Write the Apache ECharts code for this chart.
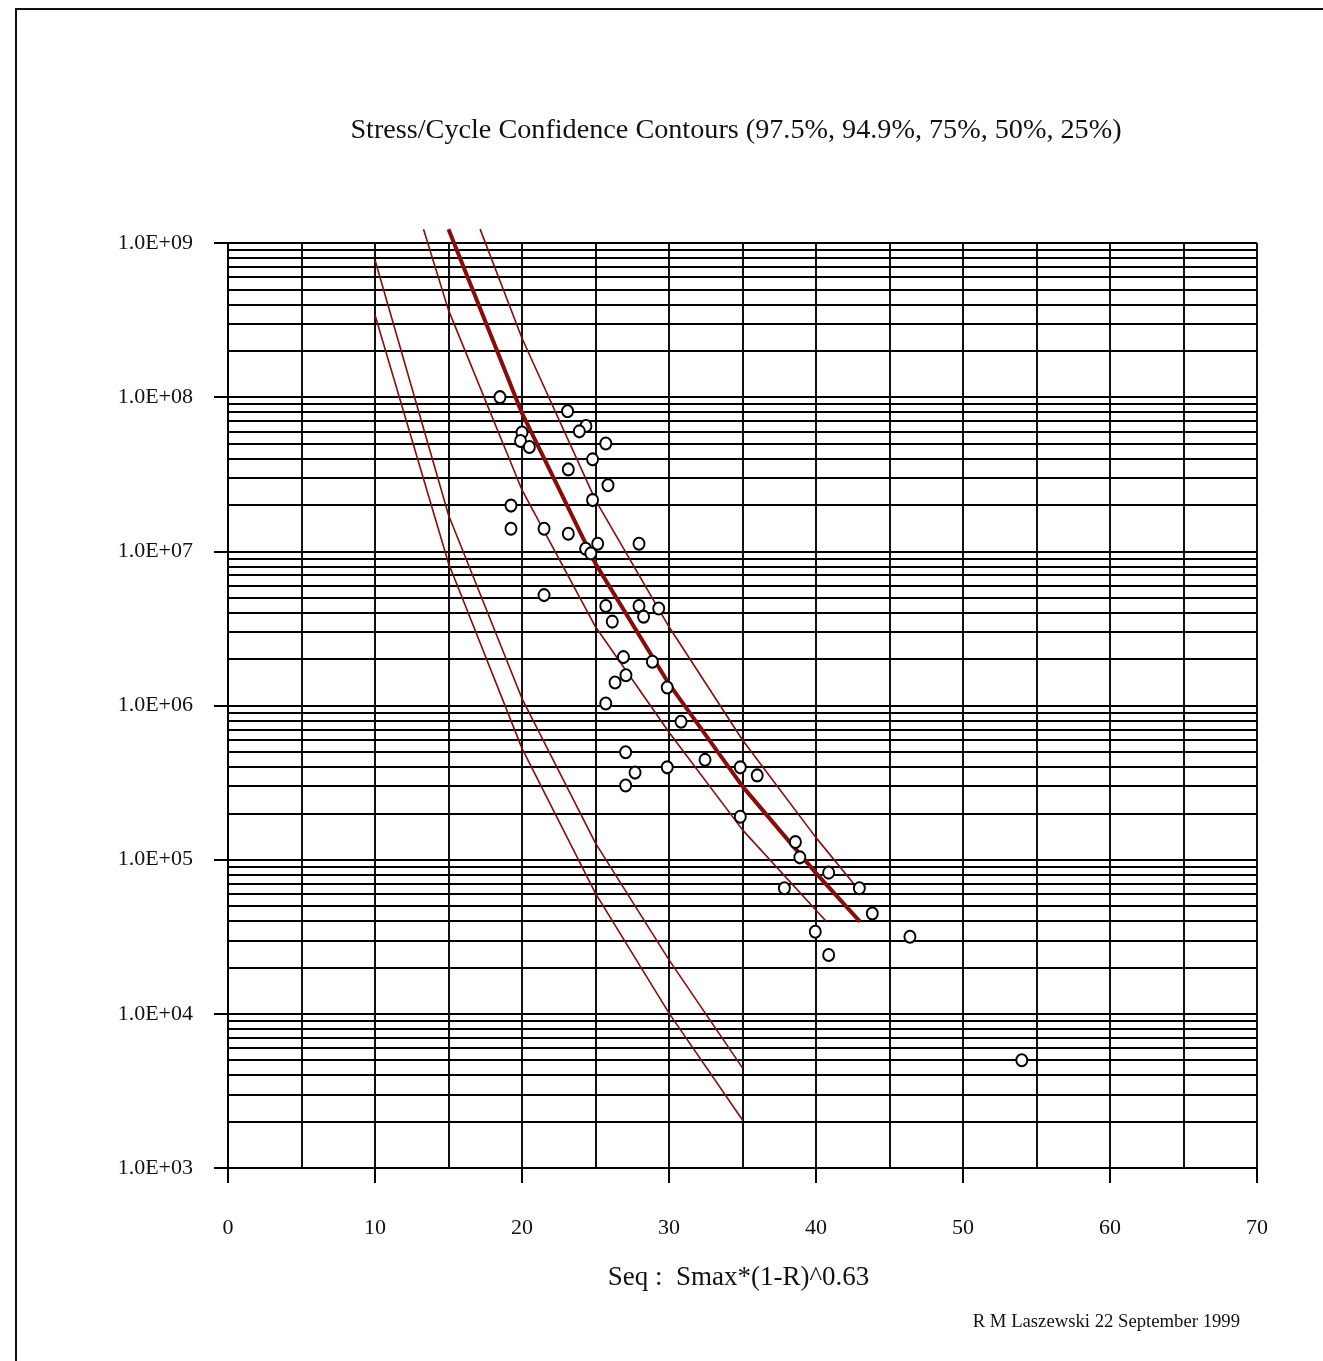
<!DOCTYPE html>
<html><head><meta charset="utf-8">
<script src="https://cdn.jsdelivr.net/npm/echarts@6/dist/echarts.min.js"></script>
<style>html,body{margin:0;padding:0;background:#fff}#c{width:1323px;height:1361px}</style>
</head><body><div id="c"></div>
<script>
const TITLE = 'Stress/Cycle Confidence Contours (97.5%, 94.9%, 75%, 50%, 25%)';
const X_NAME = 'Seq :  Smax*(1-R)^0.63';
const CREDIT = 'R M Laszewski 22 September 1999';

const yDecades = [1e3, 1e4, 1e5, 1e6, 1e7, 1e8, 1e9];
const yTickLabels = ['1.0E+03', '1.0E+04', '1.0E+05', '1.0E+06', '1.0E+07', '1.0E+08', '1.0E+09'];

// test points
const pointStress = [18.5, 23.1, 24.35, 23.9, 20.0, 19.9, 20.5, 25.7, 24.8, 23.15, 25.85, 24.8, 19.25, 19.25, 21.5, 23.15, 25.15, 27.96, 24.33, 24.68, 21.5, 25.7, 27.96, 29.3, 28.27, 26.14, 26.9, 28.87, 27.07, 26.33, 29.88, 25.7, 30.82, 27.05, 32.45, 29.88, 34.85, 36.0, 27.69, 27.05, 34.85, 38.6, 38.9, 40.86, 42.95, 37.85, 43.83, 39.95, 46.39, 40.86, 54.0];
const pointCycles = [1.0e8, 8.1e7, 6.5e7, 6.0e7, 5.9e7, 5.2e7, 4.75e7, 5.0e7, 3.95e7, 3.4e7, 2.68e7, 2.15e7, 1.98e7, 1.40e7, 1.40e7, 1.30e7, 1.12e7, 1.12e7, 1.04e7, 9.7e6, 5.2e6, 4.42e6, 4.42e6, 4.26e6, 3.77e6, 3.5e6, 2.06e6, 1.92e6, 1.57e6, 1.41e6, 1.31e6, 1.03e6, 7.85e5, 4.97e5, 4.44e5, 3.97e5, 3.97e5, 3.52e5, 3.67e5, 3.03e5, 1.90e5, 1.30e5, 1.035e5, 8.24e4, 6.52e4, 6.52e4, 4.47e4, 3.41e4, 3.16e4, 2.41e4, 5.0e3];

// confidence contours
const medianStress = [15, 20, 25, 30, 35, 40, 42.99];
const medianCycles = [1.23e9, 7.87e7, 8.32e6, 1.38e6, 2.99e5, 8.18e4, 3.96e4];
const upperStress = [17.15, 20, 25, 30, 35, 40, 42.54];
const upperCycles = [1.23e9, 2.41e8, 2.15e7, 3.24e6, 5.97e5, 1.39e5, 7.03e4];
const bandStress = [13.3, 15, 20, 25, 30, 35, 40.72];
const bandCycles = [1.23e9, 3.67e8, 2.50e7, 3.24e6, 6.70e5, 1.56e5, 3.96e4];
const low1Stress = [10, 15, 20, 25, 30, 35];
const low1Cycles = [7.76e8, 1.72e7, 1.11e6, 1.28e5, 2.24e4, 4.46e3];
const low2Stress = [10, 15, 20, 25, 30, 35];
const low2Cycles = [3.41e8, 8.36e6, 5.27e5, 6.05e4, 1.01e4, 2.05e3];

const zip = (xs, ys) => xs.map((x, i) => [x, ys[i]]);

// log minor grid lines (2..9 x 10^k)
const minorGrid = [];
for (let e = 3; e < 9; e++) for (let m = 2; m <= 9; m++) minorGrid.push(m * Math.pow(10, e));

const RED = '#8b0a0a';
const FONT = 'Liberation Serif';

function lineSeries(name, xs, ys, w) {
  return {
    name, type: 'line', data: zip(xs, ys), showSymbol: false, symbol: 'none',
    clip: false, z: 5, lineStyle: { color: RED, width: w }, silent: true
  };
}

const chart = echarts.init(document.getElementById('c'), null, { renderer: 'canvas' });
chart.setOption({
  animation: false,
  backgroundColor: '#fff',
  title: {
    text: TITLE, left: 731, top: 112, textAlign: 'center',
    textStyle: { fontFamily: FONT, fontSize: 28.2, fontWeight: 'normal', color: '#111' }
  },
  grid: { left: 228, right: 66, top: 243, bottom: 193 },
  xAxis: {
    type: 'value', min: 0, max: 70, interval: 10,
    name: X_NAME, nameLocation: 'middle', nameGap: 96,
    nameTextStyle: { fontFamily: FONT, fontSize: 27, color: '#111', padding: [0, 8, 0, 0] },
    axisLine: { show: true, lineStyle: { color: '#000', width: 2 } },
    axisTick: { show: true, length: 15, lineStyle: { color: '#000', width: 2 } },
    axisLabel: { margin: 49, fontFamily: FONT, fontSize: 22, color: '#111' },
    splitLine: { show: true, lineStyle: { color: '#111', width: 2 } },
    minorTick: { show: false, splitNumber: 2 },
    minorSplitLine: { show: true, lineStyle: { color: '#111', width: 2 } }
  },
  yAxis: {
    type: 'log', logBase: 10, min: 1e3, max: 1e9,
    axisLine: { show: true, lineStyle: { color: '#000', width: 2 } },
    axisTick: { show: true, length: 14, lineStyle: { color: '#000', width: 2 } },
    axisLabel: {
      margin: 35, fontFamily: FONT, fontSize: 22, color: '#111',
      formatter: v => { const i = yDecades.findIndex(d => Math.abs(Math.log10(d) - Math.log10(v)) < 1e-6); return i >= 0 ? yTickLabels[i] : ''; }
    },
    splitLine: { show: true, lineStyle: { color: '#000', width: 2 } }
  },
  graphic: [
    { type: 'rect', shape: { x: 16, y: 9, width: 1400, height: 1400 }, style: { fill: null, stroke: '#111', lineWidth: 2 }, silent: true },
    { type: 'text', x: 1240, y: 1322, style: { text: CREDIT, fontFamily: FONT, fontSize: 18.7, fill: '#111', textAlign: 'right', textVerticalAlign: 'middle' } }
  ],
  series: [
    {
      name: 'grid', type: 'line', data: [], silent: true,
      markLine: {
        silent: true, symbol: 'none', animation: false, label: { show: false },
        lineStyle: { color: '#000', width: 2, type: 'solid' },
        data: minorGrid.map(v => ({ yAxis: v }))
      }
    },
    lineSeries('97.5%', low2Stress, low2Cycles, 1.6),
    lineSeries('94.9%', low1Stress, low1Cycles, 1.6),
    lineSeries('75%', bandStress, bandCycles, 1.6),
    lineSeries('50%', medianStress, medianCycles, 4),
    lineSeries('25%', upperStress, upperCycles, 1.6),
    {
      name: 'data', type: 'scatter', data: zip(pointStress, pointCycles), z: 10,
      symbol: 'circle', symbolSize: [11, 12],
      itemStyle: { color: '#fff', borderColor: '#000', borderWidth: 2, opacity: 1 }
    }
  ]
});
</script></body></html>
